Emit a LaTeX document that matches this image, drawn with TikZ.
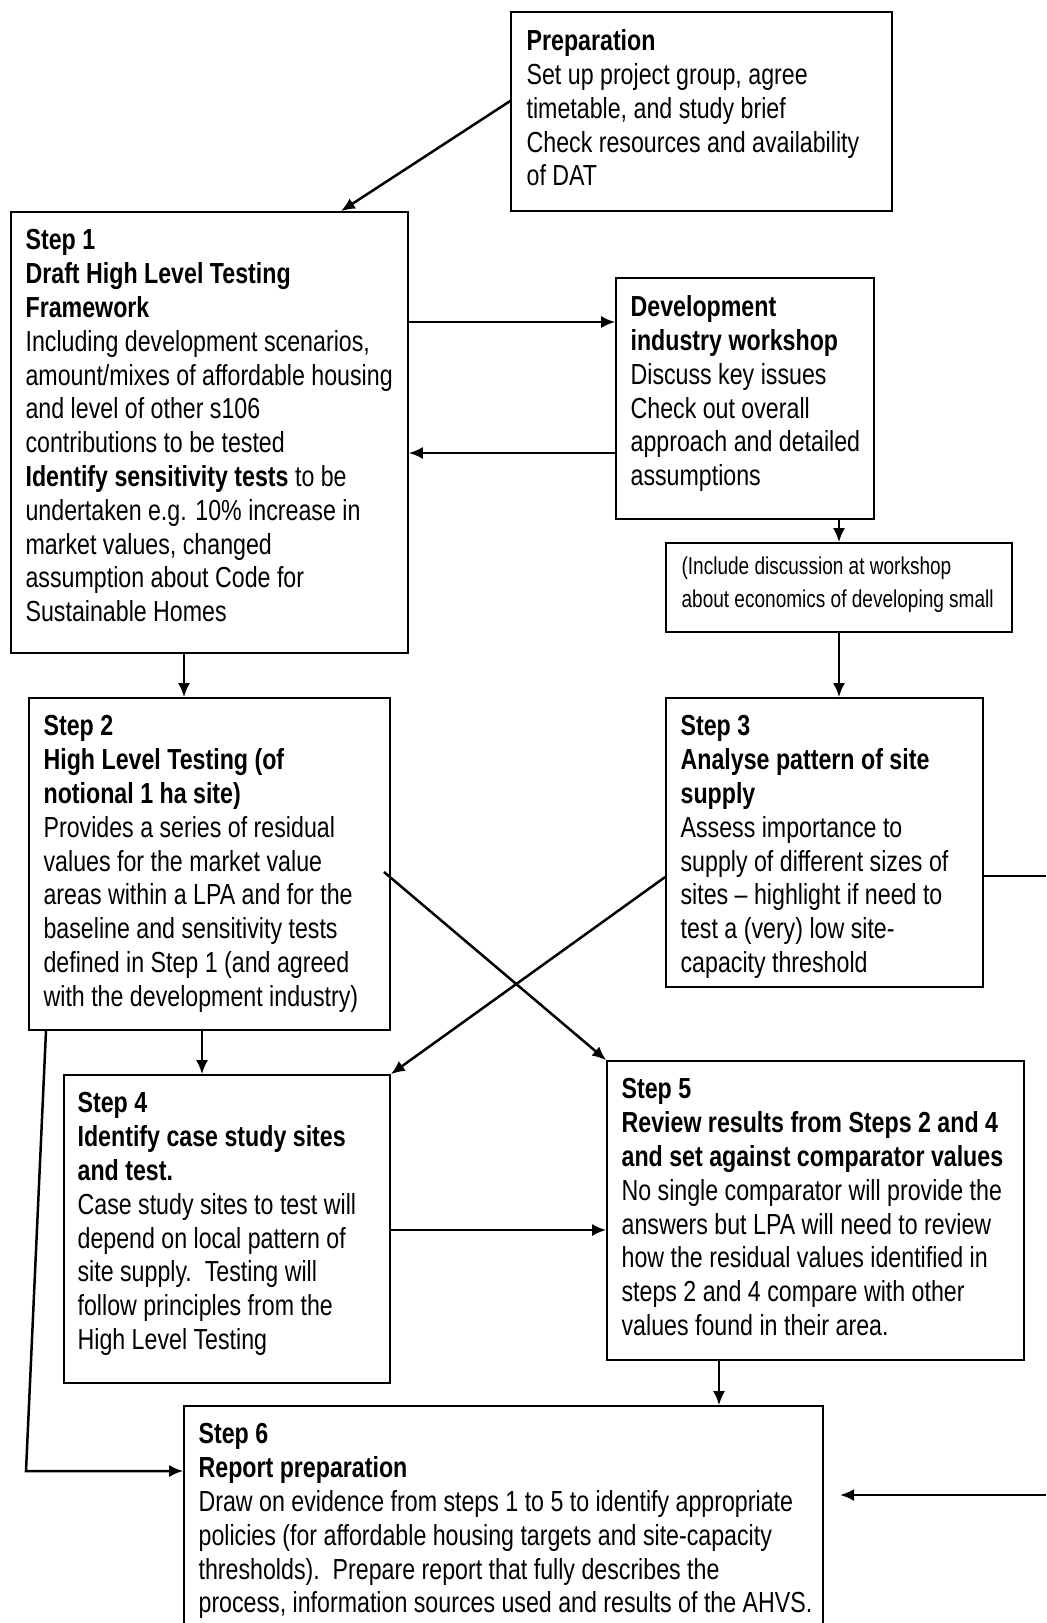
\documentclass[tikz,border=0pt]{standalone}
\usepackage{fontspec}
\setmainfont{Liberation Sans}[FakeStretch=0.80]
\usetikzlibrary{arrows.meta,fit}

\tikzset{
  box/.style={draw, line width=0.8pt, inner sep=0pt},
  txt/.style={anchor=north west, inner sep=0pt, align=left,
    font=\fontsize{14.5}{16.9}\selectfont},
  small/.style={anchor=north west, inner sep=0pt, align=left,
    font=\fontsize{12.2}{16.5}\selectfont\addfontfeatures{FakeStretch=0.78}},
  arr/.style={-{Latex[length=7pt,width=6pt]}, line width=1.25pt},
  ln/.style={line width=1.25pt}
}

\begin{document}
\begin{tikzpicture}[x=0.5pt, y=-0.5pt]
\clip (0,0) rectangle (1046,1623);

% Preparation
\node[box, fit={(511,12) (892,211)}] (prep) {};
\node[txt] (prep-t) at ([shift={(16,18)}]prep.north west) {\textbf{Preparation}\\
Set up project group, agree\\
timetable, and study brief\\
Check resources and availability\\
of DAT};

% Step 1
\node[box, fit={(11,212) (408,653)}] (s1) {};
\node[txt] (s1-t) at ([shift={(15,18)}]s1.north west) {\textbf{Step 1}\\
\textbf{Draft High Level Testing}\\
\textbf{Framework}\\
Including development scenarios,\\
amount/mixes of affordable housing\\
and level of other s106\\
contributions to be tested\\
\textbf{Identify sensitivity tests} to be\\
undertaken e.g. 10\% increase in\\
market values, changed\\
assumption about Code for\\
Sustainable Homes};

% Workshop
\node[box, fit={(616,278) (874,519)}] (dev) {};
\node[txt] (dev-t) at ([shift={(15,18)}]dev.north west) {\textbf{Development}\\
\textbf{industry workshop}\\
Discuss key issues\\
Check out overall\\
approach and detailed\\
assumptions};

% Note
\node[box, fit={(666,543) (1012,632)}] (note) {};
\node[small] (note-t) at ([shift={(16,14)}]note.north west) {(Include discussion at workshop\\
about economics of developing small};

% Step 2
\node[box, fit={(29,698) (390,1030)}] (s2) {};
\node[txt] (s2-t) at ([shift={(15,18)}]s2.north west) {\textbf{Step 2}\\
\textbf{High Level Testing (of}\\
\textbf{notional 1 ha site)}\\
Provides a series of residual\\
values for the market value\\
areas within a LPA and for the\\
baseline and sensitivity tests\\
defined in Step 1 (and agreed\\
with the development industry)};

% Step 3
\node[box, fit={(666,698) (983,987)}] (s3) {};
\node[txt] (s3-t) at ([shift={(15,18)}]s3.north west) {\textbf{Step 3}\\
\textbf{Analyse pattern of site}\\
\textbf{supply}\\
Assess importance to\\
supply of different sizes of\\
sites -- highlight if need to\\
test a (very) low site-\\
capacity threshold};

% Step 4
\node[box, fit={(64,1075) (390,1383)}] (s4) {};
\node[txt] (s4-t) at ([shift={(14,18)}]s4.north west) {\textbf{Step 4}\\
\textbf{Identify case study sites}\\
\textbf{and test.}\\
Case study sites to test will\\
depend on local pattern of\\
site supply.\ \ Testing will\\
follow principles from the\\
High Level Testing};

% Step 5
\node[box, fit={(607,1061) (1024,1360)}] (s5) {};
\node[txt] (s5-t) at ([shift={(15,18)}]s5.north west) {\textbf{Step 5}\\
\textbf{Review results from Steps 2 and 4}\\
\textbf{and set against comparator values}\\
No single comparator will provide the\\
answers but LPA will need to review\\
how the residual values identified in\\
steps 2 and 4 compare with other\\
values found in their area.};

% Step 6
\node[box, fit={(184,1406) (823,1660)}] (s6) {};
\node[txt] (s6-t) at ([shift={(15,18)}]s6.north west) {\textbf{Step 6}\\
\textbf{Report preparation}\\
Draw on evidence from steps 1 to 5 to identify appropriate\\
policies (for affordable housing targets and site-capacity\\
thresholds).\ \ Prepare report that fully describes the\\
process, information sources used and results of the AHVS.};

% Connections
\coordinate (bend) at (26,1471);
\coordinate (outR) at (1046,876);
\coordinate (inR) at (1046,1495);
\coordinate (inEnd) at (840,1495);

\draw[arr] (prep.west |- 0,101) -- (s1.north west -| 341,0);
\draw[arr] (s1.east |- 0,322) -- (dev.west |- 0,322);
\draw[arr] (dev.west |- 0,453) -- (s1.east |- 0,453);
\draw[arr] (dev.south -| note.north) -- (note.north);
\draw[arr] (note.south) -- (s3.north -| note.south);
\draw[arr] (s1.south -| 184,0) -- (s2.north -| 184,0);
\draw[arr] (s2.south -| 202,0) -- (s4.north -| 202,0);
\draw[arr] (384,872) -- (s5.north west);
\draw[arr] (s3.west |- 0,877) -- (s4.north east);
\draw[arr] (s4.east |- 0,1230) -- (s5.west |- 0,1230);
\draw[arr] (s5.south -| 719,0) -- (s6.north -| 719,0);
\draw[arr] (s2.south -| 46,0) -- (bend) -- (s6.west |- bend);
\draw[ln] (s3.east |- outR) -- (outR);
\draw[arr] (inR) -- (inEnd);

\end{tikzpicture}
\end{document}
